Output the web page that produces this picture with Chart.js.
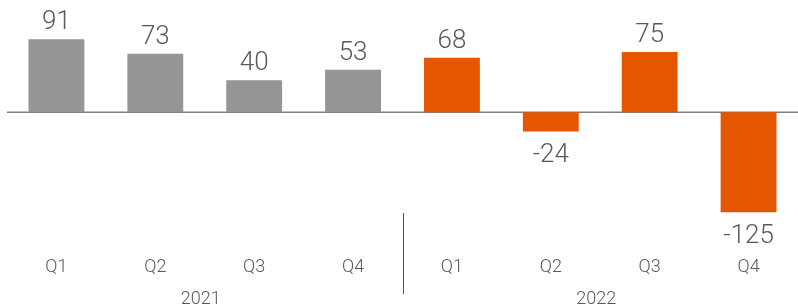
<!DOCTYPE html>
<html>
<head>
<meta charset="utf-8">
<script src="https://cdn.jsdelivr.net/npm/chart.js@4.4.1/dist/chart.umd.min.js"></script>
<style>
  html, body { margin: 0; padding: 0; background: #fff; }
  #wrap { width: 798px; height: 307px; }
</style>
</head>
<body>
<div id="wrap"><canvas id="chart" width="798" height="307"></canvas></div>
<script>
// quarters and years
const quarters = ['Q1', 'Q2', 'Q3', 'Q4', 'Q1', 'Q2', 'Q3', 'Q4'];
const years = ['2021', '2022'];
const values = [91, 73, 40, 53, 68, -24, 75, -125];
const barColors = ['#959595', '#959595', '#959595', '#959595', '#E45600', '#E45600', '#E45600', '#E45600'];

const TEXT = '#595959';
const FONT = 'Roboto, "Noto Sans", sans-serif';

const extras = {
    id: 'extras',
    beforeDatasetsDraw(chart) {
        const { ctx, chartArea, scales: { y } } = chart;
        const y0 = y.getPixelForValue(0);
        ctx.save();
        ctx.strokeStyle = '#7f7f7f';
        ctx.lineWidth = 1.5;
        ctx.beginPath();
        ctx.moveTo(chartArea.left, y0);
        ctx.lineTo(chartArea.right, y0);
        ctx.stroke();
        ctx.restore();
    },
    afterDraw(chart) {
        const { ctx, scales: { x } } = chart;
        const bars = chart.getDatasetMeta(0).data;
        ctx.save();
        ctx.fillStyle = TEXT;
        ctx.textAlign = 'center';
        ctx.textBaseline = 'alphabetic';
        ctx.font = '300 26px ' + FONT;
        bars.forEach((bar, i) => {
            const v = values[i];
            const ty = v >= 0 ? bar.y - 10 : bar.y + 31;
            ctx.fillText(String(v), bar.x, ty);
        });

        // year group labels and divider
        ctx.font = '300 18px ' + FONT;
        for (let g = 0; g < years.length; g++) {
            const cx = (x.getPixelForValue(g * 4) + x.getPixelForValue(g * 4 + 3)) / 2;
            ctx.fillText(years[g], cx - 4, 304);
        }
        const sx = (x.getPixelForValue(3) + x.getPixelForValue(4)) / 2;
        ctx.strokeStyle = TEXT;
        ctx.lineWidth = 1;
        ctx.beginPath();
        ctx.moveTo(Math.round(sx) + 0.5, 213);
        ctx.lineTo(Math.round(sx) + 0.5, 294);
        ctx.stroke();
        ctx.restore();
    }
};

new Chart(document.getElementById('chart'), {
    type: 'bar',
    data: {
        labels: quarters,
        datasets: [{
            data: values,
            backgroundColor: barColors,
            borderWidth: 0,
            barPercentage: 0.565,
            categoryPercentage: 1
        }]
    },
    options: {
        responsive: false,
        animation: false,
        devicePixelRatio: 1,
        layout: { padding: { left: 7, right: 0, top: 0, bottom: 21 } },
        plugins: {
            legend: { display: false },
            tooltip: { enabled: false }
        },
        scales: {
            x: {
                grid: { display: false, drawTicks: false, tickLength: 0 },
                border: { display: false },
                ticks: {
                    color: TEXT,
                    padding: 8,
                    font: { family: FONT, size: 18, weight: '300' }
                }
            },
            y: {
                display: false,
                min: -170,
                max: 140
            }
        }
    },
    plugins: [extras]
});
</script>
</body>
</html>
